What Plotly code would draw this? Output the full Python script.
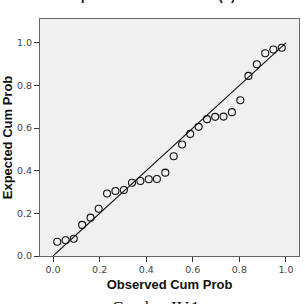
import plotly.graph_objects as go

observed = [0.018, 0.054, 0.089, 0.125, 0.161, 0.196, 0.232, 0.268, 0.304, 0.339,
            0.375, 0.411, 0.446, 0.482, 0.518, 0.554, 0.589, 0.625, 0.661, 0.696,
            0.732, 0.768, 0.804, 0.839, 0.875, 0.911, 0.946, 0.982]
expected = [0.067, 0.074, 0.081, 0.146, 0.180, 0.222, 0.293, 0.305, 0.310, 0.344,
            0.352, 0.360, 0.361, 0.391, 0.468, 0.523, 0.573, 0.606, 0.642, 0.653,
            0.654, 0.675, 0.731, 0.845, 0.900, 0.951, 0.969, 0.977]
ref_line_x = [0, 1]
ref_line_y = [0, 1]
tick_vals = [0.0, 0.2, 0.4, 0.6, 0.8, 1.0]
tick_text = ["0.0", "0.2", "0.4", "0.6", "0.8", "1.0"]

fig = go.Figure()
fig.add_trace(go.Scatter(x=ref_line_x, y=ref_line_y, mode="lines",
                         line=dict(color="#111111", width=1.1), hoverinfo="skip"))
fig.add_trace(go.Scatter(x=observed, y=expected, mode="markers",
                         marker=dict(symbol="circle-open", size=7, color="#111111",
                                     line=dict(width=1.1))))

axis_common = dict(showgrid=False, zeroline=False, showline=True, mirror=True,
                   linecolor="#666666", linewidth=1, ticks="outside", ticklen=5,
                   tickcolor="#333333", tickwidth=1,
                   tickvals=tick_vals, ticktext=tick_text,
                   tickfont=dict(family="DejaVu Sans", size=9.5, color="#444444"))

fig.update_layout(
    width=305, height=304,
    margin=dict(l=38, r=5, t=19, b=48),
    paper_bgcolor="white", plot_bgcolor="#f0f0f0",
    showlegend=False,
    xaxis=dict(range=[-0.056, 1.056], title=dict(text="<b>Observed Cum Prob</b>",
               font=dict(family="Liberation Sans", size=13, color="#111111"), standoff=5),
               **axis_common),
    yaxis=dict(range=[0, 1.112], title=dict(text="<b>Expected Cum Prob</b>",
               font=dict(family="Liberation Sans", size=13, color="#111111"), standoff=3),
               **axis_common),
)

fig.add_annotation(text="<b>Dependent Variabel: DER (Y)</b>", xref="paper", yref="paper",
                   x=(149 - 38) / 262, y=1 + (19 - 5) / 237, xanchor="center", yanchor="bottom",
                   showarrow=False, font=dict(family="Liberation Sans", size=12.5, color="#111111"))
fig.add_annotation(text="Gambar IV.1", xref="paper", yref="paper",
                   x=(155 - 38) / 262, y=-(296 - 256) / 237, xanchor="center", yanchor="top",
                   showarrow=False, font=dict(family="Liberation Serif", size=17, color="#111111"))

fig.write_html("out.html")
